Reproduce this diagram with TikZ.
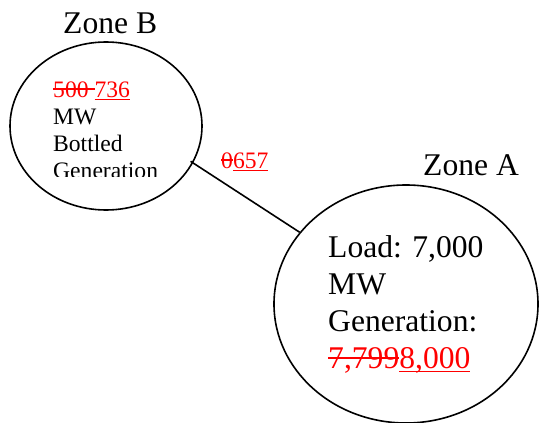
\documentclass[tikz,border=0pt]{standalone}
\usepackage{fontspec}
\setmainfont{Liberation Serif}
\usepackage{xcolor}
\definecolor{editred}{RGB}{255, 0, 0}
\usetikzlibrary{shapes.geometric,positioning}
\newsavebox{\editbox}
\newcommand{\del}[1]{\textcolor{editred}{\sbox{\editbox}{#1}%
    \rlap{\raisebox{0.3em}{\rule{\wd\editbox}{1.5pt}}}\usebox{\editbox}}}
\newcommand{\ins}[1]{\textcolor{editred}{\sbox{\editbox}{#1}%
    \rlap{\raisebox{-0.14em}{\rule{\wd\editbox}{1.5pt}}}\usebox{\editbox}}}

\begin{document}
\begin{tikzpicture}[x=1pt, y=-1pt,
    zone/.style={ellipse, draw, line width=1.6pt, inner sep=0pt},
    bigtext/.style={font=\fontsize{31.6}{36.7}\selectfont},
    smalltext/.style={font=\fontsize{23.6}{27}\selectfont}]
    \useasboundingbox (0,0) rectangle (539,423);

    % zones
    \node[zone, minimum width=192pt, minimum height=168pt] (zoneB) at (106,126) {};
    \node[zone, minimum width=264pt, minimum height=238pt] (zoneA) at (406,304) {};

    % zone titles
    \node[bigtext, anchor=base west, inner sep=0pt] (titleB) at (63,33) {Zone B};
    \node[bigtext, anchor=base west, inner sep=0pt] (titleA) at (423,175) {Zone A};

    % zone contents (base = last line)
    \begin{scope}
        \clip (0,0) rectangle (539,176.5);
        \node[smalltext, anchor=base west, align=left, inner sep=0pt] (textB) at (53,178)
            {\del{500 }\ins{736}\\MW\\Bottled\\Generation};
    \end{scope}
    \node[bigtext, anchor=base west, align=left, inner sep=0pt] (textA) at (328,368)
        {Load: 7,000\\MW\\Generation:\\\del{7,799}\ins{8,000}};

    % tie line
    \draw[line width=1.6pt, shorten <=-3pt] (zoneB.-23.4) -- (zoneA.146.7);
    \node[smalltext, anchor=base west, inner sep=0pt] (flow) at (221,168) {\del{0}\ins{657}};
\end{tikzpicture}
\end{document}
